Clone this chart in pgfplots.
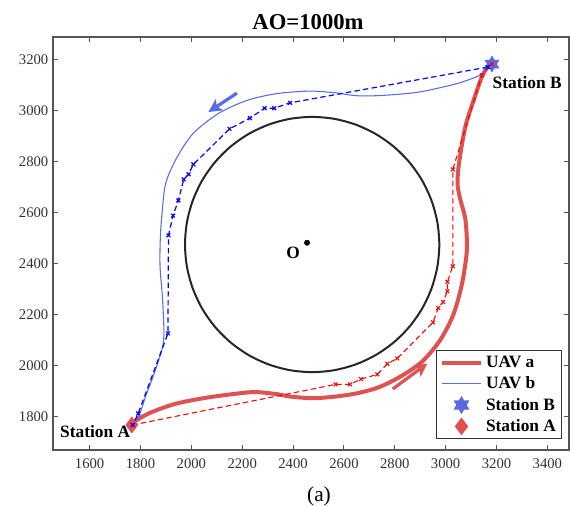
\documentclass[border=0pt]{standalone}
\usepackage{fontspec}
\setmainfont{Liberation Serif}
\usepackage{pgfplots}
\pgfplotsset{compat=1.18}
\usetikzlibrary{arrows.meta}
\definecolor{reda}{RGB}{222,82,82}
\definecolor{blueb}{RGB}{88,108,232}
\definecolor{starblue}{RGB}{90,105,225}
\definecolor{axgray}{RGB}{85,85,85}
\pgfdeclareplotmark{hexstar}{%
  \pgfpathmoveto{\pgfpointpolar{90}{\pgfplotmarksize}}%
  \pgfpathlineto{\pgfpointpolar{210}{\pgfplotmarksize}}%
  \pgfpathlineto{\pgfpointpolar{330}{\pgfplotmarksize}}%
  \pgfpathclose
  \pgfpathmoveto{\pgfpointpolar{270}{\pgfplotmarksize}}%
  \pgfpathlineto{\pgfpointpolar{30}{\pgfplotmarksize}}%
  \pgfpathlineto{\pgfpointpolar{150}{\pgfplotmarksize}}%
  \pgfpathclose
  \pgfusepathqfillstroke}
\begin{document}
\begin{tikzpicture}
\useasboundingbox (-39.75pt,-42pt) rectangle (387.75pt,337.5pt);
\begin{axis}[at={(0,0)}, anchor=south west, scale only axis,
  width=387pt, height=309.75pt,
  xmin=1456, xmax=3485, ymin=1670, ymax=3288,
  xtick={1600,1800,...,3400}, ytick={1800,2000,...,3200},
  tick align=inside, major tick length=4pt,
  axis line style={draw=axgray, line width=1pt},
  tick style={draw=axgray, line width=0.8pt},
  ticklabel style={font=\fontsize{11}{13}\selectfont, text=black!80},
  /pgf/number format/assume math mode=true,
  /pgf/number format/1000 sep={},
  xticklabel style={yshift=-3pt},
  legend style={at={(0.986,0.026)}, anchor=south east, draw=black!80, line width=0.8pt,
    font=\fontsize{13}{15}\selectfont\bfseries, inner sep=2pt, row sep=1.5pt},
  legend cell align=left,
  legend image code/.code={\draw[mark repeat=2,mark phase=2,#1] plot coordinates {(0cm,0cm) (0.525cm,0cm) (1.05cm,0cm)};},
]
% obstacle circle
\addplot[forget plot, draw=black!85, line width=1.5pt, smooth cycle] coordinates {
(2975,2475) (2967.4,2561.8) (2944.8,2646.0) (2908.0,2725.0) (2858.0,2796.4) (2796.4,2858.0)
(2725.0,2908.0) (2646.0,2944.8) (2561.8,2967.4) (2475,2975) (2388.2,2967.4) (2304.0,2944.8)
(2225.0,2908.0) (2153.6,2858.0) (2092.0,2796.4) (2042.0,2725.0) (2005.2,2646.0) (1982.6,2561.8)
(1975,2475) (1982.6,2388.2) (2005.2,2304.0) (2042.0,2225.0) (2092.0,2153.6) (2153.6,2092.0)
(2225.0,2042.0) (2304.0,2005.2) (2388.2,1982.6) (2475,1975) (2561.8,1982.6) (2646.0,2005.2)
(2725.0,2042.0) (2796.4,2092.0) (2858.0,2153.6) (2908.0,2225.0) (2944.8,2304.0) (2967.4,2388.2)};
% UAV a trajectory
\addplot[forget plot, color=reda, line width=3pt, smooth] coordinates {
(1768,1777) (1834,1814) (1934,1850) (2048,1873) (2163,1889) (2249,1897) (2335,1889)
(2392,1879) (2478,1873) (2563,1879) (2650,1892) (2735,1915) (2821,1957) (2907,2016)
(2978,2100) (3030,2200) (3064,2320) (3083,2450) (3078,2570) (3058,2650) (3047,2710)
(3052,2790) (3077,2935) (3110,3040) (3142,3131) (3165,3172)};
% UAV b trajectory
\addplot[forget plot, color=blueb, line width=0.8pt, smooth] coordinates {
(3172,3176) (3136,3140) (3103,3125) (3035,3103) (2893,3072) (2749,3059) (2650,3058)
(2560,3070) (2463,3076) (2335,3066) (2220,3040) (2106,2988) (2006,2909) (1940,2810)
(1899,2714) (1885,2600) (1878,2500) (1877,2387) (1887,2257) (1891,2100) (1863,1996)
(1820,1879) (1798,1814) (1777,1777)};
% stations
\addplot[forget plot, only marks, mark=hexstar, mark size=6pt, color=starblue] coordinates {(3182,3182)};
\addplot[forget plot, only marks, mark=diamond*, mark size=6pt, color=reda] coordinates {(1766,1768)};
% waypoints UAV a
\addplot[forget plot, color=red, line width=0.8pt, dash pattern=on 4pt off 2.5pt,
  mark=x, mark size=2pt, mark options={solid, line width=0.8pt}] coordinates {
(1768,1768) (2567,1927) (2624,1927) (2667,1948) (2731,1966) (2771,2008) (2810,2029)
(2950,2170) (2971,2227) (2990,2250) (3007,2292) (3007,2329) (3028,2390) (3028,2769)
(3142,3138) (3182,3182)};
% waypoints UAV b
\addplot[forget plot, color=blue, line width=0.9pt, dash pattern=on 4pt off 2.5pt,
  mark=x, mark size=2pt, mark options={solid, line width=0.9pt}] coordinates {
(3165,3170) (2388,3030) (2326,3009) (2288,3009) (2230,2970) (2150,2928) (2008,2789)
(1989,2750) (1970,2730) (1949,2648) (1928,2588) (1910,2511) (1908,2127) (1791,1813)
(1770,1768)};
% direction arrows
\addplot[forget plot, color=blueb, line width=2.4pt, -{Stealth[length=10pt,width=10pt,inset=2.5pt]}] coordinates {(2179,3068) (2067,2994)};
\addplot[forget plot, color=reda, line width=2.4pt, -{Stealth[length=10pt,width=10pt,inset=2.5pt]}] coordinates {(2792,1909) (2928,2009)};
% centre O
\addplot[forget plot, only marks, mark=*, mark size=2pt, color=black] coordinates {(2455,2482)};
\node[font=\fontsize{13}{15}\selectfont\bfseries] at (axis cs:2400,2444) {O};
\node[font=\fontsize{13}{15}\selectfont\bfseries, anchor=west, inner sep=0pt] at (axis cs:3184,3111) {Station B};
\node[font=\fontsize{13}{15}\selectfont\bfseries, anchor=east, inner sep=0pt] at (axis cs:1760,1742) {Station A};
% legend
\addlegendimage{color=reda, line width=3pt}
\addlegendentry{UAV a}
\addlegendimage{color=blueb, line width=0.8pt}
\addlegendentry{UAV b}
\addlegendimage{only marks, mark=hexstar, mark size=6pt, color=starblue}
\addlegendentry{Station B}
\addlegendimage{only marks, mark=diamond*, mark size=6pt, color=reda}
\addlegendentry{Station A}
\end{axis}
\node[font=\fontsize{17}{20}\selectfont\bfseries] at (191.25pt,321pt) {AO=1000m};
\node[font=\fontsize{16}{19}\selectfont] at (199.5pt,-34.5pt) {(a)};
\end{tikzpicture}
\end{document}
